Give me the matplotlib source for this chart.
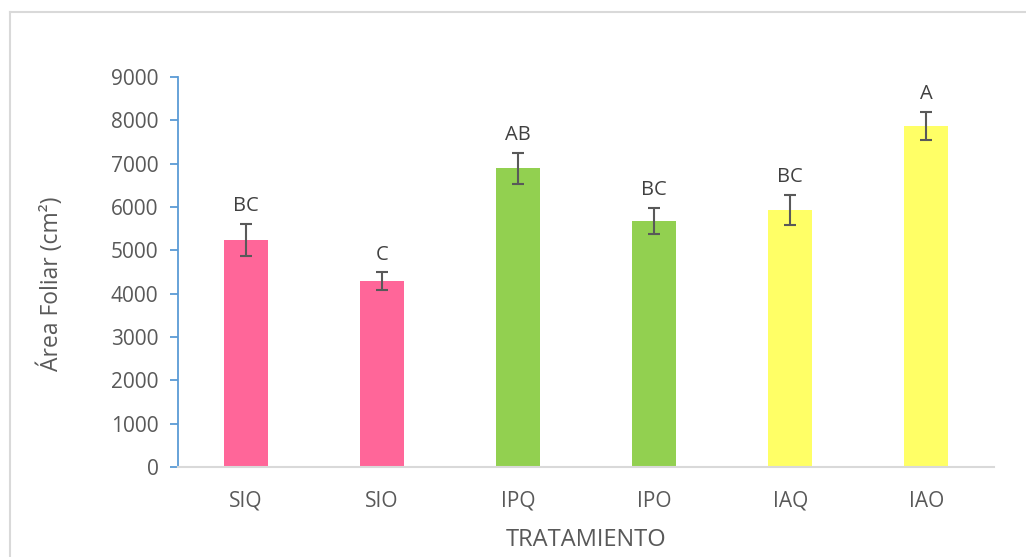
import matplotlib.pyplot as plt
from matplotlib.lines import Line2D

plt.rcParams['font.family'] = ['Open Sans', 'DejaVu Sans']

# datos: área foliar media por tratamiento
tratamientos = ['SIQ', 'SIO', 'IPQ', 'IPO', 'IAQ', 'IAO']
area = [5240, 4290, 6895, 5680, 5930, 7870]
error = [375, 200, 355, 305, 355, 330]
letras = ['BC', 'C', 'AB', 'BC', 'BC', 'A']
colores = ['#FF6699', '#FF6699', '#92D050', '#92D050', '#FFFF66', '#FFFF66']

fig = plt.figure(figsize=(10.26, 5.57), dpi=100)
ax = fig.add_axes([0.1735, 0.1616, 0.7955, 0.7002])

x = range(len(tratamientos))
ax.bar(x, area, width=0.32, color=colores, zorder=2)
ax.errorbar(x, area, yerr=error, fmt='none', ecolor='#595959',
            elinewidth=1.5, capsize=4.5, capthick=1.5, zorder=3)

# letras de significancia encima de cada barra
for i in x:
    ax.annotate(letras[i], (i, area[i] + error[i]), xytext=(0, 9),
                textcoords='offset points', ha='center', va='baseline',
                fontsize=14.5, color='#404040')

ax.set_xlim(-0.5, len(tratamientos) - 0.5)
ax.set_ylim(0, 9000)
ax.set_yticks(range(0, 9001, 1000))
ax.set_xticks(list(x))
ax.set_xticklabels(tratamientos)

for s in ['top', 'right']:
    ax.spines[s].set_visible(False)
ax.spines['left'].set_color('#5B9BD5')
ax.spines['left'].set_linewidth(1.3)
ax.spines['bottom'].set_color('#D9D9D9')
ax.spines['bottom'].set_linewidth(1.5)

ax.tick_params(axis='y', colors='#5B9BD5', length=6, width=1.3,
               labelcolor='#595959', labelsize=15, pad=8)
ax.tick_params(axis='x', length=0, labelcolor='#595959', labelsize=15, pad=17)

ax.set_ylabel('Área Foliar (cm²)', fontsize=16.5, color='#595959')
ax.set_xlabel('TRATAMIENTO', fontsize=17, color='#595959', labelpad=12)
ax.yaxis.set_label_coords(-0.140, 0.47)

# borde del área del gráfico
W, H = 1026, 557
fig.add_artist(Line2D([10 / W, 10 / W], [0, 1 - 12 / H], color='#D9D9D9', lw=1.5))
fig.add_artist(Line2D([10 / W, 1], [1 - 12 / H, 1 - 12 / H], color='#D9D9D9', lw=1.5))

fig.savefig('out.png', dpi=100)
